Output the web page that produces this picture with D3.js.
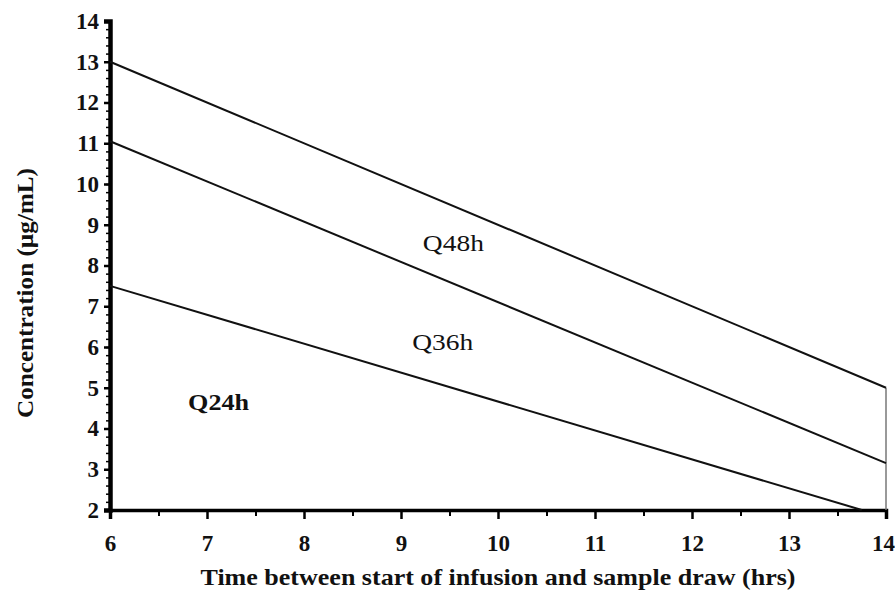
<!DOCTYPE html>
<html>
<head>
<meta charset="utf-8">
<script src="https://cdn.jsdelivr.net/npm/d3@7"></script>
<style>
  body { margin: 0; background: #fff; }
  text { font-family: "Liberation Serif", "DejaVu Serif", serif; }
</style>
</head>
<body>
<div id="grafico"></div>
<script>
// dados
const xTicks = [6, 7, 8, 9, 10, 11, 12, 13, 14];
const yTicks = [2, 3, 4, 5, 6, 7, 8, 9, 10, 11, 12, 13, 14];
const q48h = [[6, 13], [14, 5]];
const q36h = [[6, 11.05], [14, 3.15]];
const q24h = [[6, 7.5], [13.75, 2]];
const series = [q48h, q36h, q24h];
const labels = [
  { text: "Q48h", x: 9.54, y: 8.36, bold: false },
  { text: "Q36h", x: 9.43, y: 5.93, bold: false },
  { text: "Q24h", x: 7.12, y: 4.45, bold: true }
];

const margin = { top: 21, right: 9, bottom: 89, left: 110 };
const width = 895 - margin.left - margin.right;
const height = 599 - margin.top - margin.bottom;

const svg = d3.select("#grafico")
  .append("svg")
  .attr("width", 895)
  .attr("height", 599)
  .append("g")
  .attr("transform", `translate(${margin.left},${margin.top})`);

const x = d3.scaleLinear().domain([6, 14]).range([0, width]);
const y = d3.scaleLinear().domain([2, 14]).range([height, 0]);

// ticks menores
svg.append("g")
  .attr("transform", `translate(0,${height})`)
  .call(d3.axisBottom(x).tickValues(d3.range(6.5, 14, 1)).tickSize(6).tickFormat(""))
  .call(g => g.select(".domain").remove())
  .selectAll("line").attr("stroke-width", 2);

svg.append("g")
  .call(d3.axisLeft(y).tickValues(d3.range(2, 14.01, 0.2)).tickSize(4).tickFormat(""))
  .call(g => g.select(".domain").remove())
  .selectAll("line").attr("stroke-width", 1.5);

// eixo x
const xAxis = svg.append("g")
  .attr("transform", `translate(0,${height})`)
  .call(d3.axisBottom(x).tickValues(xTicks).tickSize(9).tickPadding(16));
xAxis.select(".domain").attr("stroke-width", 3.5);
xAxis.selectAll("line").attr("stroke-width", 2.5);
xAxis.selectAll("text")
  .style("font-size", "23px")
  .style("font-weight", "bold")
  .attr("fill", "#111")
  .attr("dx", d => d === 14 ? -3 : 0);

// eixo y
const yAxis = svg.append("g")
  .call(d3.axisLeft(y).tickValues(yTicks).tickSize(6).tickPadding(5));
yAxis.select(".domain").attr("stroke-width", 4.5);
yAxis.selectAll("line").attr("stroke-width", 2.5);
yAxis.selectAll("text")
  .style("font-size", "23px")
  .style("font-weight", "bold")
  .attr("fill", "#111");

// linha vertical à direita
svg.append("line")
  .attr("x1", x(14)).attr("x2", x(14))
  .attr("y1", y(q48h[1][1])).attr("y2", y(2))
  .attr("stroke", "#777")
  .attr("stroke-width", 1.5);

const line = d3.line().x(d => x(d[0])).y(d => y(d[1]));

series.forEach(s => {
  svg.append("path")
    .datum(s)
    .attr("fill", "none")
    .attr("stroke", "#111")
    .attr("stroke-width", 2)
    .attr("d", line);
});

labels.forEach(l => {
  svg.append("text")
    .attr("x", x(l.x))
    .attr("y", y(l.y))
    .attr("text-anchor", "middle")
    .attr("font-size", 24)
    .attr("font-weight", l.bold ? "bold" : "normal")
    .attr("textLength", 61)
    .attr("lengthAdjust", "spacingAndGlyphs")
    .attr("fill", "#111")
    .text(l.text);
});

// títulos dos eixos
svg.append("text")
  .attr("x", 498 - margin.left)
  .attr("y", 585 - margin.top)
  .attr("text-anchor", "middle")
  .attr("font-size", 23)
  .attr("font-weight", "bold")
  .attr("textLength", 595)
  .attr("lengthAdjust", "spacingAndGlyphs")
  .attr("fill", "#111")
  .text("Time between start of infusion and sample draw (hrs)");

svg.append("text")
  .attr("transform", `translate(${33 - margin.left},${293 - margin.top}) rotate(-90)`)
  .attr("text-anchor", "middle")
  .attr("font-size", 23)
  .attr("font-weight", "bold")
  .attr("textLength", 250)
  .attr("lengthAdjust", "spacingAndGlyphs")
  .attr("fill", "#111")
  .text("Concentration (µg/mL)");
</script>
</body>
</html>
